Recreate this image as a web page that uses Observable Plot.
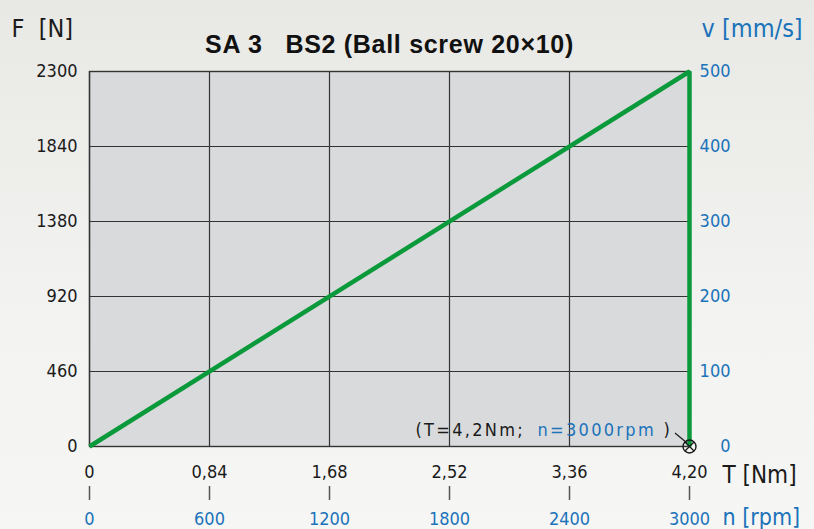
<!DOCTYPE html>
<html>
<head>
<meta charset="utf-8">
<script src="https://cdn.jsdelivr.net/npm/d3@7"></script>
<script src="https://cdn.jsdelivr.net/npm/@observablehq/plot@0.6"></script>
<style>
  html, body { margin: 0; padding: 0; }
  body { width: 814px; height: 529px; overflow: hidden;
         background: linear-gradient(#e8e8e5 0%, #f2f2f0 55%, #f6f6f4 100%); }
  #chart svg { display: block; white-space: pre; background: transparent; }
</style>
</head>
<body>
<div id="chart"></div>
<script>
// ---- data ----
const T_TICKS  = [0, 0.84, 1.68, 2.52, 3.36, 4.2];          // torque T [Nm]
const T_LABELS = ["0", "0,84", "1,68", "2,52", "3,36", "4,20"];
const N_LABELS = ["0", "600", "1200", "1800", "2400", "3000"]; // speed n [rpm]
const F_TICKS  = [0, 460, 920, 1380, 1840, 2300];            // force F [N]
const V_LABELS = ["0", "100", "200", "300", "400", "500"];   // velocity v [mm/s]
const CURVE_T  = [0, 4.2, 4.2];
const CURVE_F  = [0, 2300, 0];
const TITLE    = "SA 3   BS2 (Ball screw 20×10)";
const NOTE_T   = "(T=4,2Nm;";
const NOTE_N   = "n=3000rpm";
const NOTE_END = ")";

const curve = CURVE_T.map((t, i) => ({T: t, F: CURVE_F[i]}));
const corner = [{T: 4.2, F: 0}];

const BLUE = "#1b73ba";
const INK = "#1a1a1a";
const GREEN = "#0a993b";
const FONT = "'DejaVu Sans Condensed', 'DejaVu Sans', sans-serif";

function leader(index, scales) {
  const x = scales.x(4.2), y = scales.y(0);
  const g = document.createElementNS("http://www.w3.org/2000/svg", "line");
  g.setAttribute("x1", x - 14); g.setAttribute("y1", y - 13);
  g.setAttribute("x2", x - 2);  g.setAttribute("y2", y - 3);
  g.setAttribute("stroke", INK); g.setAttribute("stroke-width", 1.2);
  return g;
}

const chart = Plot.plot({
  width: 814,
  height: 529,
  marginLeft: 89,
  marginRight: 125,
  marginTop: 71,
  marginBottom: 83,
  style: {fontFamily: FONT, fontSize: "18px", color: INK, background: "transparent", overflow: "visible"},
  x: {domain: [0, 4.2]},
  y: {domain: [0, 2300]},
  marks: [
    Plot.frame({fill: "#d9dadc", stroke: null}),
    Plot.gridX(T_TICKS, {stroke: "#333", strokeOpacity: 1, strokeWidth: 1.2}),
    Plot.gridY(F_TICKS, {stroke: "#333", strokeOpacity: 1, strokeWidth: 1.2}),
    Plot.frame({stroke: "#333", strokeWidth: 1.4}),
    // left axis F [N]
    Plot.axisY(F_TICKS, {anchor: "left", tickSize: 0, tickPadding: 12, fontSize: 18, fill: INK,
      tickFormat: d => String(d), label: null}),
    // right axis v [mm/s]
    Plot.axisY(F_TICKS, {anchor: "right", tickSize: 0, tickPadding: 41, textAnchor: "end", fontSize: 18, fill: BLUE,
      tickFormat: d => V_LABELS[F_TICKS.indexOf(d)], label: null}),
    // bottom axis T [Nm]
    Plot.axisX(T_TICKS, {anchor: "bottom", tickSize: 0, tickPadding: 19, fontSize: 18, fill: INK,
      tickFormat: d => T_LABELS[T_TICKS.indexOf(d)], label: null}),
    // second bottom axis n [rpm]
    Plot.axisX(T_TICKS, {anchor: "bottom", tickSize: 14, dy: 40, tickPadding: 12, fontSize: 18, fill: BLUE,
      stroke: "#555", strokeWidth: 1.5,
      tickFormat: d => N_LABELS[T_TICKS.indexOf(d)], label: null}),
    // the curve
    Plot.line(curve, {x: "T", y: "F", stroke: GREEN, strokeWidth: 4.5, strokeLinejoin: "miter", strokeLinecap: "butt"}),
    // corner marker
    Plot.dot(corner, {x: "T", y: "F", r: 6.5, stroke: INK, strokeWidth: 1.4, fill: "none"}),
    Plot.dot(corner, {x: "T", y: "F", r: 4.2, symbol: "times", stroke: INK, strokeWidth: 1.3}),
    leader,
    // annotation
    Plot.text(corner, {x: "T", y: "F", text: () => NOTE_T, textAnchor: "start", dx: -274, dy: -16,
      fill: INK, fontSize: 18}),
    Plot.text(corner, {x: "T", y: "F", text: () => NOTE_N, textAnchor: "start", dx: -152, dy: -16,
      fill: BLUE, fontSize: 18}),
    Plot.text(corner, {x: "T", y: "F", text: () => NOTE_END, textAnchor: "start", dx: -26, dy: -16,
      fill: INK, fontSize: 18}),
    // titles
    Plot.text([TITLE], {frameAnchor: "top", lineAnchor: "middle", dy: -27, fontFamily: "'Liberation Sans', Arial, sans-serif",
      fontWeight: "bold", fontSize: 25, fill: "#111"}),
    Plot.text(["F  [N]"], {frameAnchor: "top-left", lineAnchor: "middle", textAnchor: "start", dx: -78, dy: -43, fontSize: 25, fill: INK}),
    Plot.text(["v [mm/s]"], {frameAnchor: "top-right", lineAnchor: "middle", textAnchor: "start", dx: 12, dy: -43, fontSize: 25, fill: BLUE}),
    Plot.text(["T [Nm]"], {frameAnchor: "bottom-right", lineAnchor: "middle", textAnchor: "start", dx: 33, dy: 29, fontSize: 24, fill: INK}),
    Plot.text(["n [rpm]"], {frameAnchor: "bottom-right", lineAnchor: "middle", textAnchor: "start", dx: 33, dy: 71, fontSize: 23, fill: BLUE})
  ]
});
// letter spacing (not a Plot option): widen the annotation and title like the reference
chart.querySelectorAll("text").forEach(t => {
  const s = t.textContent;
  if (s === NOTE_T || s === NOTE_N || s === NOTE_END) t.style.letterSpacing = "2.3px";
  else if (s === TITLE) t.style.letterSpacing = "0.7px";
});
document.getElementById("chart").appendChild(chart);
</script>
</body>
</html>
